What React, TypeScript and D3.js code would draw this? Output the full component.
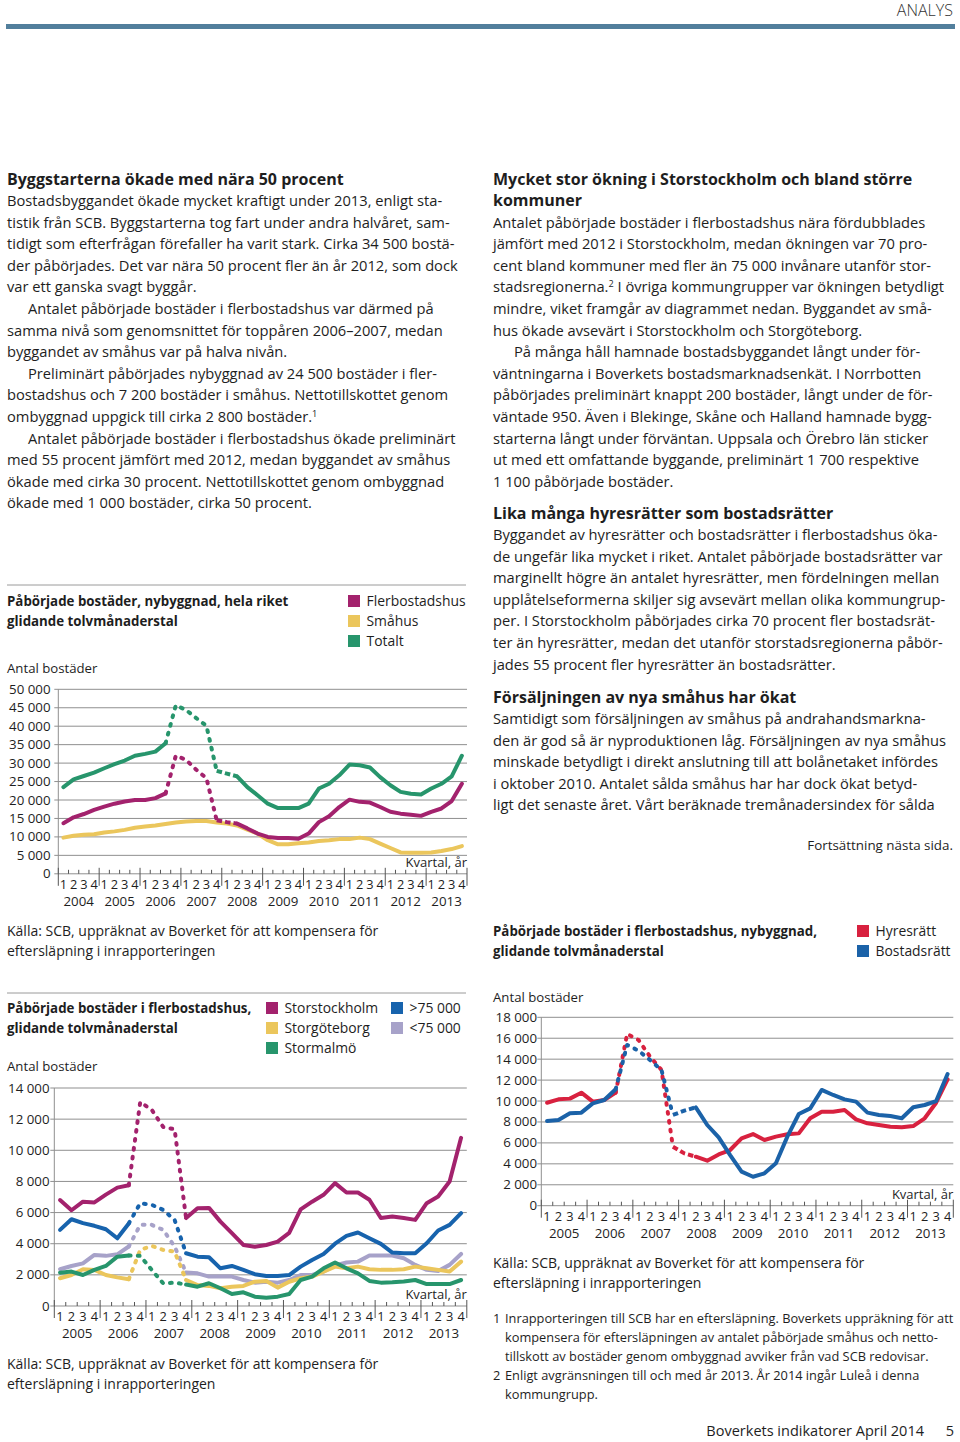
import React from "react";
import * as d3 from "d3";

const FONT = "'Open Sans', 'DejaVu Sans', sans-serif";
const TEXT = "#1e1e1e";
const GRID = "#8f8f8f";

// ---------- Chart 1: Påbörjade bostäder, nybyggnad, hela riket ----------
const years1 = ["2004", "2005", "2006", "2007", "2008", "2009", "2010", "2011", "2012", "2013"];
const quarterLabels = ["1", "2", "3", "4"];
const riketYTicks = [0, 5000, 10000, 15000, 20000, 25000, 30000, 35000, 40000, 45000, 50000];
const riketFlerbostadshus = [
  13700, 15300, 16200, 17300,
  18200, 19000, 19600, 20000,
  20000, 20500, 21800, 32000,
  30900, 28200, 25900, 14500,
  14000, 13600, 12300, 10900,
  10000, 9700, 9700, 9500,
  10900, 14000, 15600, 18100,
  20100, 19500, 19300, 18100,
  16800, 16300, 16000, 15700,
  16800, 17700, 19700, 24400,
];
const riketSmahus = [
  9800, 10300, 10600, 10700,
  11200, 11500, 11900, 12500,
  12800, 13100, 13500, 13900,
  14200, 14300, 14300, 13900,
  13600, 13100, 12000, 10900,
  9100, 8000, 8000, 8300,
  8500, 8900, 9100, 9400,
  9400, 9800, 9400, 8200,
  7000, 5800, 5700, 5700,
  5800, 6200, 6700, 7500,
];
const riketTotalt = [
  23500, 25600, 26500, 27400,
  28600, 29700, 30700, 32000,
  32500, 33100, 35400, 45700,
  44400, 42200, 40100, 27900,
  27150, 26400, 23500, 21300,
  19000, 17800, 17800, 17800,
  19000, 23100, 24400, 26700,
  29600, 29400, 28800, 26200,
  24000, 22200, 21700, 21500,
  23100, 24400, 26400, 32000,
];

// ---------- Chart 2: flerbostadshus per kommungrupp ----------
const years2 = ["2005", "2006", "2007", "2008", "2009", "2010", "2011", "2012", "2013"];
const regionYTicks = [0, 2000, 4000, 6000, 8000, 10000, 12000, 14000];
const storstockholm = [
  6800, 6150, 6700, 6650, 7150, 7600, 7750, 13100, 12600, 11500, 11350, 5650,
  6280, 6300, 5420, 4680, 3920, 3810, 3920, 4130, 4700, 6200, 6700, 7140,
  7890, 7290, 7290, 6820, 5650, 5750, 5650, 5530, 6600, 7030, 8000, 10800,
];
const storgoteborg = [
  1780, 1990, 2360, 2320, 1990, 1840, 1720, 3600, 3860, 3600, 3490, 1670,
  1350, 1290, 1140, 1240, 1290, 1560, 1600, 1180, 1560, 1780, 1890, 2200,
  2530, 2420, 2530, 2360, 2320, 2320, 2360, 2530, 2420, 2320, 2210, 2850,
];
const stormalmo = [
  2140, 2210, 1990, 2320, 2570, 3170, 3240, 3220, 2320, 1460, 1500, 1380,
  1240, 1460, 1140, 770, 880, 600, 530, 600, 770, 1670, 1890, 2420,
  2790, 2420, 2100, 1610, 1500, 1520, 1570, 1670, 1410, 1410, 1410, 1670,
];
const over75000 = [
  4890, 5570, 5320, 5150, 4930, 4350, 5300, 6600, 6500, 6170, 5530, 3390,
  3170, 3130, 2420, 2570, 2315, 2040, 1930, 1930, 1990, 2530, 2960, 3340,
  4000, 4500, 4720, 4350, 3990, 3430, 3390, 3390, 4030, 4850, 5210, 5960,
];
const under75000 = [
  2360, 2570, 2740, 3280, 3220, 3320, 3820, 5210, 5210, 4890, 3820, 2150,
  2100, 1890, 1890, 1890, 1670, 1500, 1560, 1500, 1670, 1990, 1990, 2210,
  2600, 2790, 2850, 3240, 3240, 3240, 3070, 2640, 2320, 2250, 2640, 3340,
];

// ---------- Chart 3: upplåtelseform ----------
const tenureYTicks = [0, 2000, 4000, 6000, 8000, 10000, 12000, 14000, 16000, 18000];
const hyresratt = [
  9840, 10160, 10230, 10800, 9940, 10100, 10800, 16410, 15830, 14240, 12970, 5640,
  5000, 4680, 4300, 4900, 5320, 6440, 6850, 6280, 6600, 6820, 6910, 8350,
  8980, 8980, 9140, 8250, 7870, 7710, 7550, 7490, 7610, 8350, 9840, 12070,
];
const bostadsratt = [
  8090, 8190, 8830, 8890, 9780, 10100, 11120, 15360, 14810, 13920, 12970, 8670,
  9080, 9400, 7710, 6520, 4840, 3250, 2770, 3090, 4050, 6600, 8760, 9300,
  11060, 10580, 10160, 9940, 8890, 8670, 8570, 8350, 9400, 9620, 10000, 12580,
];

// ---------- Texts ----------
const leftHeading = "Byggstarterna ökade med nära 50 procent";
const leftBody: [string, boolean][] = [
  ["Bostadsbyggandet ökade mycket kraftigt under 2013, enligt sta-", false],
  ["tistik från SCB. Byggstarterna tog fart under andra halvåret, sam-", false],
  ["tidigt som efterfrågan förefaller ha varit stark. Cirka 34 500 bostä-", false],
  ["der påbörjades. Det var nära 50 procent fler än år 2012, som dock", false],
  ["var ett ganska svagt byggår.", false],
  ["Antalet påbörjade bostäder i flerbostadshus var därmed på", true],
  ["samma nivå som genomsnittet för toppåren 2006–2007, medan", false],
  ["byggandet av småhus var på halva nivån.", false],
  ["Preliminärt påbörjades nybyggnad av 24 500 bostäder i fler-", true],
  ["bostadshus och 7 200 bostäder i småhus. Nettotillskottet genom", false],
  ["ombyggnad uppgick till cirka 2 800 bostäder.^1", false],
  ["Antalet påbörjade bostäder i flerbostadshus ökade preliminärt", true],
  ["med 55 procent jämfört med 2012, medan byggandet av småhus", false],
  ["ökade med cirka 30 procent. Nettotillskottet genom ombyggnad", false],
  ["ökade med 1 000 bostäder, cirka 50 procent.", false],
];
const rightHeading1 = ["Mycket stor ökning i Storstockholm och bland större", "kommuner"];
const rightBody1: [string, boolean][] = [
  ["Antalet påbörjade bostäder i flerbostadshus nära fördubblades", false],
  ["jämfört med 2012 i Storstockholm, medan ökningen var 70 pro-", false],
  ["cent bland kommuner med fler än 75 000 invånare utanför stor-", false],
  ["stadsregionerna.^2 I övriga kommungrupper var ökningen betydligt", false],
  ["mindre, viket framgår av diagrammet nedan. Byggandet av små-", false],
  ["hus ökade avsevärt i Storstockholm och Storgöteborg.", false],
  ["På många håll hamnade bostadsbyggandet långt under för-", true],
  ["väntningarna i Boverkets bostadsmarknadsenkät. I Norrbotten", false],
  ["påbörjades preliminärt knappt 200 bostäder, långt under de för-", false],
  ["väntade 950. Även i Blekinge, Skåne och Halland hamnade bygg-", false],
  ["starterna långt under förväntan. Uppsala och Örebro län sticker", false],
  ["ut med ett omfattande byggande, preliminärt 1 700 respektive", false],
  ["1 100 påbörjade bostäder.", false],
];
const rightHeading2 = "Lika många hyresrätter som bostadsrätter";
const rightBody2: [string, boolean][] = [
  ["Byggandet av hyresrätter och bostadsrätter i flerbostadshus öka-", false],
  ["de ungefär lika mycket i riket. Antalet påbörjade bostadsrätter var", false],
  ["marginellt högre än antalet hyresrätter, men fördelningen mellan", false],
  ["upplåtelseformerna skiljer sig avsevärt mellan olika kommungrup-", false],
  ["per. I Storstockholm påbörjades cirka 70 procent fler bostadsrät-", false],
  ["ter än hyresrätter, medan det utanför storstadsregionerna påbör-", false],
  ["jades 55 procent fler hyresrätter än bostadsrätter.", false],
];
const rightHeading3 = "Försäljningen av nya småhus har ökat";
const rightBody3: [string, boolean][] = [
  ["Samtidigt som försäljningen av småhus på andrahandsmarkna-", false],
  ["den är god så är nyproduktionen låg. Försäljningen av nya småhus", false],
  ["minskade betydligt i direkt anslutning till att bolånetaket infördes", false],
  ["i oktober 2010. Antalet sålda småhus har har dock ökat betyd-", false],
  ["ligt det senaste året. Vårt beräknade tremånadersindex för sålda", false],
];
const sourceLines = [
  "Källa: SCB, uppräknat av Boverket för att kompensera för",
  "eftersläpning i inrapporteringen",
];
const footnotes: [string, string][] = [
  ["1", "Inrapporteringen till SCB har en eftersläpning. Boverkets uppräkning för att"],
  ["", "kompensera för eftersläpningen av antalet påbörjade småhus och netto-"],
  ["", "tillskott av bostäder genom ombyggnad avviker från vad SCB redovisar."],
  ["2", "Enligt avgränsningen till och med år 2013. År 2014 ingår Luleå i denna"],
  ["", "kommungrupp."],
];

const MAGENTA = "#a3226d";
const YELLOW = "#ebc65c";
const GREEN = "#27956c";
const BLUE = "#1763ad";
const LAVENDER = "#a7a2c9";
const RED = "#d8213f";
const BLUE2 = "#1b62a8";

const BODY = 14.7;
const HEAD = 16;

type Kind = "solid" | "dot" | "dash";
type Seg = { from: number; to: number; kind: Kind };
type Series = { values: number[]; color: string; segs: Seg[] };

const fmt = (v: number) => d3.format(",")(v).replace(/,/g, " ");

function RichLine({ x, y, text, size, weight }: { x: number; y: number; text: string; size: number; weight?: number }) {
  const parts = text.split(/\^(\d)/);
  return (
    <text x={x} y={y} fontSize={size} fontWeight={weight || 400} fill={TEXT} fontFamily={FONT}>
      {parts.map((p, i) =>
        i % 2 === 1 ? (
          <tspan key={i} fontSize={size * 0.62} dy={-5}>{p}</tspan>
        ) : (
          <tspan key={i} dy={i > 0 ? 5 : 0}>{p}</tspan>
        )
      )}
    </text>
  );
}

function Paragraphs({ x, y0, lines, step }: { x: number; y0: number; lines: [string, boolean][]; step: number }) {
  return (
    <g>
      {lines.map(([t, indent], i) => (
        <RichLine key={i} x={x + (indent ? 21 : 0)} y={y0 + i * step} text={t} size={BODY} />
      ))}
    </g>
  );
}

function dashFor(kind: Kind) {
  if (kind === "dot") return { strokeDasharray: "1.8 7.2", strokeLinecap: "round" as const };
  if (kind === "dash") return { strokeDasharray: "5.5 3", strokeLinecap: "butt" as const };
  return { strokeDasharray: undefined, strokeLinecap: "round" as const };
}

function LineChart(props: {
  left: number; right: number; top: number; bottom: number; yMax: number; ticks: number[];
  years: string[]; series: Series[]; labelRight: number;
}) {
  const { left, right, top, bottom, yMax, ticks, years, series, labelRight } = props;
  const y = d3.scaleLinear().domain([0, yMax]).range([bottom, top]);
  const nQ = years.length * 4;
  const x = d3.scaleBand<number>().domain(d3.range(nQ)).range([left, right]).padding(0);
  const bw = x.bandwidth();
  const xc = (i: number) => (x(i) as number) + bw / 2;
  const line = d3.line<[number, number]>().x((d) => d[0]).y((d) => d[1]);
  return (
    <g fontFamily={FONT} fill={TEXT}>
      {ticks.map((t) => (
        <g key={t}>
          <line x1={left - 4} x2={right} y1={y(t)} y2={y(t)} stroke={GRID} strokeWidth={1} />
          <text x={labelRight} y={y(t) + 4.5} fontSize={13.3} textAnchor="end">{fmt(t)}</text>
        </g>
      ))}
      <line x1={left} x2={left} y1={y(yMax)} y2={bottom} stroke={GRID} strokeWidth={1} />
      {d3.range(nQ + 1).map((i) => {
        const xx = left + i * bw;
        return i % 4 === 0 ? (
          <line key={i} x1={xx} x2={xx} y1={bottom - 6} y2={bottom + 12} stroke="#555" strokeWidth={1} />
        ) : (
          <line key={i} x1={xx} x2={xx} y1={bottom - 4} y2={bottom} stroke="#555" strokeWidth={1} />
        );
      })}
      {d3.range(nQ).map((i) => (
        <text key={i} x={xc(i)} y={bottom + 15} fontSize={12.8} textAnchor="middle">{quarterLabels[i % 4]}</text>
      ))}
      {years.map((yr, j) => (
        <text key={yr} x={left + (j * 4 + 2) * bw} y={bottom + 32} fontSize={13.3} textAnchor="middle">{yr}</text>
      ))}
      <text x={right} y={bottom - 7} fontSize={13} textAnchor="end">Kvartal, år</text>
      {series.map((s, si) => (
        <g key={si}>
          {s.segs.map((sg, k) => {
            const pts: [number, number][] = s.values
              .slice(sg.from, sg.to + 1)
              .map((v, m) => [xc(sg.from + m), y(v)]);
            const st = dashFor(sg.kind);
            return (
              <path key={k} d={line(pts) || ""} fill="none" stroke={s.color} strokeWidth={4}
                strokeLinejoin="round" strokeDasharray={st.strokeDasharray} strokeLinecap={st.strokeLinecap} />
            );
          })}
        </g>
      ))}
    </g>
  );
}

function Legend({ items }: { items: { x: number; y: number; color: string; label: string }[] }) {
  return (
    <g fontFamily={FONT}>
      {items.map((it) => (
        <g key={it.label}>
          <rect x={it.x} y={it.y - 6} width={12} height={12} fill={it.color} />
          <text x={it.x + 18.5} y={it.y + 5} fontSize={13.9} fill={TEXT}>{it.label}</text>
        </g>
      ))}
    </g>
  );
}

function ChartTitle({ x, y, lines }: { x: number; y: number; lines: string[] }) {
  return (
    <g>
      {lines.map((l, i) => (
        <text key={i} x={x} y={y + i * 20} fontSize={13.3} fontWeight={700} fill={TEXT} fontFamily={FONT}>{l}</text>
      ))}
    </g>
  );
}

function SmallLines({ x, y, lines, size }: { x: number; y: number; lines: string[]; size: number }) {
  return (
    <g>
      {lines.map((l, i) => (
        <text key={i} x={x} y={y + i * 20} fontSize={size} fill={TEXT} fontFamily={FONT}>{l}</text>
      ))}
    </g>
  );
}

export default function App() {
  const seg1: Seg[] = [
    { from: 0, to: 10, kind: "solid" },
    { from: 10, to: 15, kind: "dot" },
    { from: 15, to: 17, kind: "dash" },
    { from: 17, to: 39, kind: "solid" },
  ];
  const seg1Solid: Seg[] = [{ from: 0, to: 39, kind: "solid" }];
  const seg2: Seg[] = [
    { from: 0, to: 6, kind: "solid" },
    { from: 6, to: 11, kind: "dot" },
    { from: 11, to: 35, kind: "solid" },
  ];
  const seg3: Seg[] = [
    { from: 0, to: 6, kind: "solid" },
    { from: 6, to: 11, kind: "dot" },
    { from: 11, to: 13, kind: "dash" },
    { from: 13, to: 35, kind: "solid" },
  ];
  const step = 21.6;
  return (
    <svg width={960} height={1442} style={{ position: "absolute", left: 0, top: 0, background: "#fff" }}>
      <rect x={0} y={0} width={960} height={1442} fill="#fff" />
      {/* header */}
      <text x={953} y={16} fontSize={16} fontWeight={300} textAnchor="end" fill="#333" fontFamily={FONT}>ANALYS</text>
      <rect x={6} y={24} width={949} height={5} fill="#527f9c" />

      {/* left column text */}
      <text x={7} y={184.5} fontSize={HEAD} fontWeight={700} fill={TEXT} fontFamily={FONT}>{leftHeading}</text>
      <Paragraphs x={7} y0={206} lines={leftBody} step={step} />

      {/* right column text */}
      {rightHeading1.map((h, i) => (
        <text key={i} x={493} y={184.5 + i * step} fontSize={HEAD} fontWeight={700} fill={TEXT} fontFamily={FONT}>{h}</text>
      ))}
      <Paragraphs x={493} y0={227.5} lines={rightBody1} step={step} />
      <text x={493} y={518.5} fontSize={HEAD} fontWeight={700} fill={TEXT} fontFamily={FONT}>{rightHeading2}</text>
      <Paragraphs x={493} y0={540} lines={rightBody2} step={step} />
      <text x={493} y={702.5} fontSize={HEAD} fontWeight={700} fill={TEXT} fontFamily={FONT}>{rightHeading3}</text>
      <Paragraphs x={493} y0={724} lines={rightBody3} step={step} />
      <text x={953} y={849.5} fontSize={13.4} textAnchor="end" fill={TEXT} fontFamily={FONT}>Fortsättning nästa sida.</text>

      {/* Chart 1 */}
      <line x1={7} x2={466} y1={585} y2={585} stroke="#9a9a9a" strokeWidth={1} />
      <ChartTitle x={7} y={605.5} lines={["Påbörjade bostäder, nybyggnad, hela riket", "glidande tolvmånaderstal"]} />
      <Legend items={[
        { x: 348, y: 601, color: MAGENTA, label: "Flerbostadshus" },
        { x: 348, y: 621, color: YELLOW, label: "Småhus" },
        { x: 348, y: 641, color: GREEN, label: "Totalt" },
      ]} />
      <text x={7} y={672.5} fontSize={13.2} fill={TEXT} fontFamily={FONT}>Antal bostäder</text>
      <LineChart left={58.3} right={467} top={689.3} bottom={873.8} yMax={50000} ticks={riketYTicks}
        years={years1} labelRight={50.5}
        series={[
          { values: riketSmahus, color: YELLOW, segs: seg1Solid },
          { values: riketFlerbostadshus, color: MAGENTA, segs: seg1 },
          { values: riketTotalt, color: GREEN, segs: seg1 },
        ]} />
      <SmallLines x={7} y={936} lines={sourceLines} size={14} />

      {/* Chart 2 */}
      <line x1={7} x2={466} y1={993} y2={993} stroke="#9a9a9a" strokeWidth={1} />
      <ChartTitle x={7} y={1012.5} lines={["Påbörjade bostäder i flerbostadshus,", "glidande tolvmånaderstal"]} />
      <Legend items={[
        { x: 266, y: 1008, color: MAGENTA, label: "Storstockholm" },
        { x: 266, y: 1028, color: YELLOW, label: "Storgöteborg" },
        { x: 266, y: 1048, color: GREEN, label: "Stormalmö" },
        { x: 391, y: 1008, color: BLUE, label: ">75 000" },
        { x: 391, y: 1028, color: LAVENDER, label: "<75 000" },
      ]} />
      <text x={7} y={1070.5} fontSize={13.2} fill={TEXT} fontFamily={FONT}>Antal bostäder</text>
      <LineChart left={54.3} right={466.8} top={1088} bottom={1306} yMax={14000} ticks={regionYTicks}
        years={years2} labelRight={49.5}
        series={[
          { values: under75000, color: LAVENDER, segs: seg2 },
          { values: storgoteborg, color: YELLOW, segs: seg2 },
          { values: stormalmo, color: GREEN, segs: seg2 },
          { values: over75000, color: BLUE, segs: seg2 },
          { values: storstockholm, color: MAGENTA, segs: seg2 },
        ]} />
      <SmallLines x={7} y={1369} lines={sourceLines} size={14} />

      {/* Chart 3 */}
      <ChartTitle x={493} y={935.5} lines={["Påbörjade bostäder i flerbostadshus, nybyggnad,", "glidande tolvmånaderstal"]} />
      <Legend items={[
        { x: 857, y: 931, color: RED, label: "Hyresrätt" },
        { x: 857, y: 951, color: BLUE2, label: "Bostadsrätt" },
      ]} />
      <text x={493} y={1001.5} fontSize={13.2} fill={TEXT} fontFamily={FONT}>Antal bostäder</text>
      <LineChart left={541.3} right={953.3} top={1017.3} bottom={1205.7} yMax={18000} ticks={tenureYTicks}
        years={years2} labelRight={537}
        series={[
          { values: hyresratt, color: RED, segs: seg3 },
          { values: bostadsratt, color: BLUE2, segs: seg3 },
        ]} />
      <SmallLines x={493} y={1268} lines={sourceLines} size={14} />

      {/* footnotes */}
      {footnotes.map(([n, t], i) => (
        <g key={i} fontFamily={FONT} fill={TEXT} fontSize={12.8}>
          {n && <text x={493} y={1323 + i * 19}>{n}</text>}
          <text x={505} y={1323 + i * 19}>{t}</text>
        </g>
      ))}

      {/* footer */}
      <text x={924} y={1436} fontSize={14.5} textAnchor="end" fill={TEXT} fontFamily={FONT}>Boverkets indikatorer April 2014</text>
      <text x={954} y={1436} fontSize={14.5} textAnchor="end" fill={TEXT} fontFamily={FONT}>5</text>
    </svg>
  );
}
